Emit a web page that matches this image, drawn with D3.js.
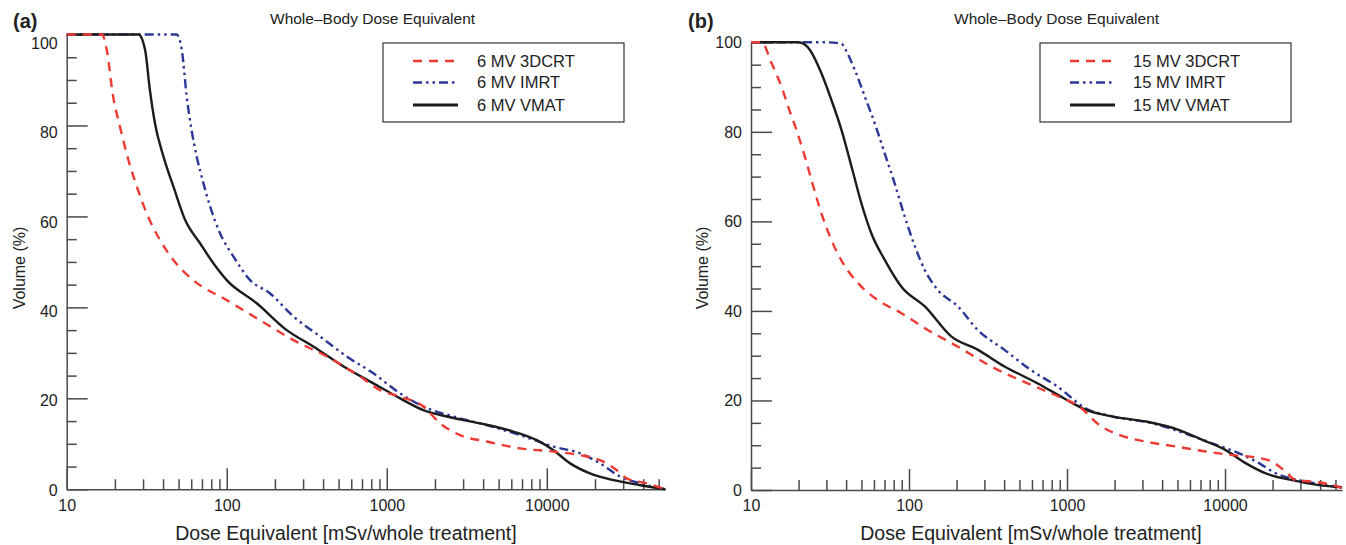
<!DOCTYPE html>
<html>
<head>
<meta charset="utf-8">
<script src="https://cdn.jsdelivr.net/npm/d3@7"></script>
<style>
  body { margin: 0; background: #fff; }
  svg { font-family: "Liberation Sans", Arial, sans-serif; }
</style>
</head>
<body>
<div class="chart"></div>
<script>
// DATA ------------------------------------

const titleText = "Whole\u2013Body Dose Equivalent"
const xTitle = "Dose Equivalent [mSv/whole treatment]"
const yTitle = "Volume (%)"
const xTickLabels = [10, 100, 1000, 10000]
const yTickLabels = [0, 20, 40, 60, 80, 100]

// (a) 6 MV
const doseA3dcrt = [10, 16.6, 17.8, 19.5, 21.5, 24.3, 27.4, 31.6, 38.3, 46.4, 61.7, 100, 161, 261, 422, 681, 908, 1211, 1694, 2154, 2871, 4217, 6810, 11000, 16200, 21500, 27400, 31600, 42200, 55000]
const volA3dcrt  = [100, 100, 96.6, 86.4, 79.8, 72.4, 66.6, 60.7, 54.8, 50.4, 46.0, 41.6, 37.2, 32.8, 29.2, 24.8, 21.8, 20.4, 18.2, 14.5, 11.9, 10.5, 9.0, 8.3, 7.5, 6.4, 4.2, 2.4, 1.3, 0]
const doseAimrt  = [10, 48.7, 52.4, 56.2, 60.3, 64.9, 71.5, 78.7, 90.8, 110, 140, 186, 261, 383, 562, 825, 1211, 1694, 2610, 4220, 6810, 11000, 16200, 21500, 28700, 38300, 55000]
const volAimrt   = [100, 100, 96.6, 86.4, 79.0, 73.2, 67.3, 62.2, 56.3, 51.2, 46.0, 43.1, 38.0, 33.6, 29.2, 25.5, 21.1, 18.2, 16.0, 14.1, 11.9, 9.4, 7.9, 5.7, 2.8, 1.3, 0]
const doseAvmat  = [10, 28.1, 30.9, 33.1, 35.6, 40.2, 46.4, 55, 68.1, 82.5, 100, 154, 237, 347, 537, 825, 1211, 1694, 2371, 3830, 6170, 8660, 11000, 14000, 18600, 26100, 38300, 55000]
const volAvmat   = [100, 100, 96.6, 87.8, 80.5, 73.2, 66.6, 59.2, 54.1, 49.7, 46.0, 40.9, 35.0, 31.4, 27.0, 23.3, 20.0, 17.4, 16.0, 14.5, 12.7, 10.8, 8.6, 5.7, 3.5, 2.0, 0.9, 0]

// (b) 15 MV
const doseB3dcrt = [10, 11.7, 13.5, 15.6, 17.2, 19.4, 21.9, 24.8, 27.9, 32.3, 38.3, 47.6, 63.6, 89.5, 132, 204, 331, 564, 895, 1197, 1603, 2140, 3160, 4900, 7580, 11100, 14800, 19900, 24200, 28000, 35600, 47800, 55000]
const volB3dcrt  = [100, 100, 95.3, 90.1, 85.6, 80.4, 74.5, 67.8, 61.8, 55.8, 50.6, 46.2, 42.4, 39.5, 35.7, 32.0, 27.6, 23.8, 20.8, 18.6, 14.5, 12.3, 10.8, 9.7, 8.6, 7.8, 7.4, 6.3, 4.1, 2.2, 1.9, 1.1, 0.4]
const doseBimrt  = [10, 30, 37.4, 39.3, 45.4, 52.5, 60.7, 70.2, 81.1, 93.9, 109, 126, 152, 204, 273, 402, 590, 870, 1320, 1950, 3470, 5620, 8300, 12300, 16400, 21000, 29400, 43700, 55000]
const volBimrt   = [100, 100, 99.7, 98.6, 93.8, 87.9, 81.9, 75.2, 68.5, 61.1, 54.4, 49.1, 44.7, 41.0, 35.7, 31.3, 26.8, 23.1, 18.2, 16.4, 14.9, 12.6, 10.4, 8.2, 6.0, 3.7, 2.2, 1.1, 0.6]
const doseBvmat  = [10, 20, 23.6, 27.9, 32.3, 37.4, 43.3, 50, 57.8, 70.2, 89.5, 126, 185, 273, 402, 653, 955, 1320, 1950, 3160, 5130, 7200, 10100, 13500, 18100, 26600, 39300, 55000]
const volBvmat   = [100, 100, 98.3, 93.1, 87.1, 80.4, 72.2, 64.0, 57.3, 51.4, 45.4, 41.0, 34.3, 31.3, 27.6, 23.8, 20.5, 17.9, 16.4, 15.3, 13.4, 11.2, 8.9, 6.0, 3.7, 2.2, 1.1, 0.6]

const zip = (xs, ys) => xs.map((d, i) => ({dose: d, vol: ys[i]}))

// styles per technique
const styles = {
    '3DCRT': {color: '#ef3a33', dash: '9,7', width: 2.4},
    'IMRT':  {color: '#2c3795', dash: '9,4,2.5,4,2.5,4', width: 2.4},
    'VMAT':  {color: '#1c1c1c', dash: null, width: 2.4}
}

const panels = [
    {
        tag: '(a)', energy: '6 MV', tagX: 13, x0: 66.7, x1: 665.3, yTop: 34.5, yBot: 489.3, labTop: 43, labBot: 490,
        legend: {x: 383, y: 43, w: 241, h: 79, lineX: 413, textX: 477},
        titleX: 270, xTitleX: 346, yTitleX: 19,
        series: [
            {name: 'IMRT', data: zip(doseAimrt, volAimrt)},
            {name: 'VMAT', data: zip(doseAvmat, volAvmat)},
            {name: '3DCRT', data: zip(doseA3dcrt, volA3dcrt)}
        ]
    },
    {
        tag: '(b)', energy: '15 MV', tagX: 688, x0: 751, x1: 1342, yTop: 42.3, yBot: 490, labTop: 42.3, labBot: 490,
        legend: {x: 1040, y: 43, w: 251, h: 79, lineX: 1070, textX: 1133},
        titleX: 954, xTitleX: 1031, yTitleX: 702,
        series: [
            {name: 'IMRT', data: zip(doseBimrt, volBimrt)},
            {name: 'VMAT', data: zip(doseBvmat, volBvmat)},
            {name: '3DCRT', data: zip(doseB3dcrt, volB3dcrt)}
        ]
    }
]

// CHART -----------------------------------

const svg = d3.select(".chart").append("svg")
    .attr("width", 1346)
    .attr("height", 545)

// minor tick positions on the log axis
const xMinor = []
for (let p = 10; p < 55000; p *= 10) {
    for (let m = 2; m <= 9; m++) if (p * m < 55000) xMinor.push(p * m)
}
const yMinor = d3.range(0, 101, 5).filter(v => v % 20 !== 0)

panels.forEach(P => {
    const xScale = d3.scaleLog().domain([10, 55000]).range([P.x0, P.x1])
    const yScale = d3.scaleLinear().domain([0, 100]).range([P.yBot, P.yTop])
    const labScale = d3.scaleLinear().domain([0, 100]).range([P.labBot, P.labTop])

    const g = svg.append("g")

    // x axis: major + minor ticks pointing inward
    g.append("g")
        .attr("transform", `translate(0,${P.yBot})`)
        .call(d3.axisBottom(xScale).tickValues(xMinor).tickSize(-10).tickSizeOuter(0).tickFormat(""))
        .call(a => a.select(".domain").remove())
    g.append("g")
        .attr("class", "x-axis")
        .attr("transform", `translate(0,${P.yBot})`)
        .call(d3.axisBottom(xScale).tickValues(xTickLabels).tickSize(-21).tickSizeOuter(0)
            .tickPadding(10).tickFormat(d3.format("d")))
        .call(a => a.selectAll("text").attr("font-size", 16).attr("fill", "#222"))

    // y axis
    g.append("g")
        .attr("transform", `translate(${P.x0},0)`)
        .call(d3.axisLeft(yScale).tickValues(yMinor).tickSize(-10).tickSizeOuter(0).tickFormat(""))
        .call(a => a.select(".domain").remove())
    g.append("g")
        .attr("transform", `translate(${P.x0},0)`)
        .call(d3.axisLeft(yScale).tickValues(yTickLabels).tickSize(-21).tickSizeOuter(0).tickFormat(""))

    g.selectAll(".y-lab")
        .data(yTickLabels)
        .join("text")
        .attr("class", "y-lab")
        .attr("x", P.x0 - 9)
        .attr("y", d => labScale(d))
        .attr("dy", "0.36em")
        .attr("text-anchor", "end")
        .attr("font-size", 16)
        .attr("fill", "#222")
        .text(d => d)

    g.selectAll(".domain, .tick line").attr("stroke", "#4a4a4a").attr("stroke-width", 1.5)

    // curves
    const line = d3.line()
        .x(d => xScale(d.dose))
        .y(d => yScale(d.vol))
        .curve(d3.curveMonotoneX)

    g.selectAll(".curve")
        .data(P.series)
        .join("path")
        .attr("class", "curve")
        .attr("d", d => line(d.data))
        .attr("fill", "none")
        .attr("stroke", d => styles[d.name].color)
        .attr("stroke-width", d => styles[d.name].width)
        .attr("stroke-dasharray", d => styles[d.name].dash)

    // titles
    g.append("text")
        .attr("x", P.titleX).attr("y", 24)
        .attr("font-size", 15.5)
        .attr("fill", "#222")
        .text(titleText)
    g.append("text")
        .attr("x", P.tagX).attr("y", 28)
        .attr("font-size", 20)
        .attr("font-weight", "bold")
        .attr("fill", "#222")
        .text(P.tag)
    g.append("text")
        .attr("x", P.xTitleX).attr("y", 540)
        .attr("text-anchor", "middle")
        .attr("font-size", 19.5)
        .attr("fill", "#222")
        .text(xTitle)
    g.append("text")
        .attr("transform", `translate(${P.yTitleX},268) rotate(-90)`)
        .attr("dy", "0.36em")
        .attr("text-anchor", "middle")
        .attr("font-size", 16)
        .attr("fill", "#222")
        .text(yTitle)

    // legend
    const L = P.legend
    const lg = g.append("g")
    lg.append("rect")
        .attr("x", L.x).attr("y", L.y).attr("width", L.w).attr("height", L.h)
        .attr("fill", "#fff").attr("stroke", "#333").attr("stroke-width", 1.2)
    const order = ['3DCRT', 'IMRT', 'VMAT']
    const rowY = [61, 82.5, 105]
    order.forEach((name, i) => {
        const s = styles[name]
        lg.append("line")
            .attr("x1", L.lineX).attr("x2", L.lineX + 45)
            .attr("y1", rowY[i]).attr("y2", rowY[i])
            .attr("stroke", s.color)
            .attr("stroke-width", name === 'VMAT' ? 3 : 2.4)
            .attr("stroke-dasharray", s.dash)
        lg.append("text")
            .attr("x", L.textX).attr("y", rowY[i])
            .attr("dy", "0.36em")
            .attr("font-size", 16.5)
            .attr("fill", "#222")
            .text(`${P.energy} ${name}`)
    })
})
</script>
</body>
</html>
